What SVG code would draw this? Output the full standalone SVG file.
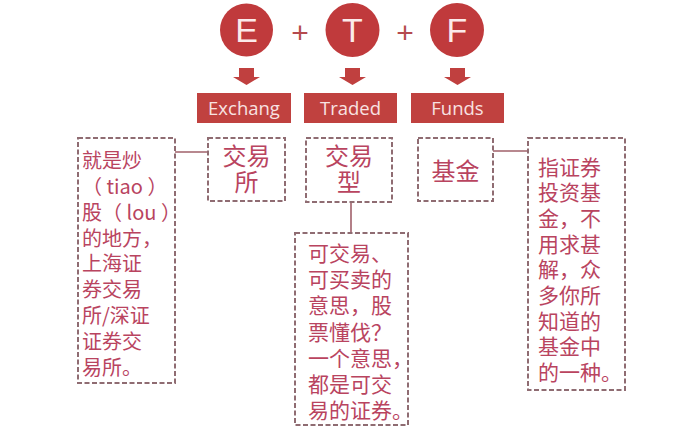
<svg xmlns="http://www.w3.org/2000/svg" width="675" height="434" viewBox="0 0 675 434">
<style>
.circ{fill:#c03a3c}
.ltr{font-family:"Liberation Sans","Open Sans",sans-serif;font-size:34px;fill:#fbeaea;text-anchor:middle}
.plus{font-family:"Liberation Sans",sans-serif;font-size:30px;fill:#b54a4e;text-anchor:middle}
.arr{fill:#c0403f}
.lbox{fill:#c0413f}
.ltxt{font-family:"Open Sans","Liberation Sans",sans-serif;font-size:18.5px;fill:#f8e2e2;text-anchor:middle}
.dash{fill:#ffffff;stroke:#8f6c72;stroke-width:2;stroke-dasharray:5 2.5}
.cn{font-family:"Noto Sans CJK SC","Noto Sans",sans-serif;fill:#b9445f}
.hd{font-size:24px;text-anchor:middle}
.bd{font-size:21px}
.conn{stroke:#a0606a;stroke-width:1.6;fill:none}
</style>
<rect width="675" height="434" fill="#ffffff"/>
<g id="E">
<circle class="circ" cx="246.5" cy="30" r="26.5"/>
<text class="ltr" x="246.5" y="42">E</text>
<path class="arr" d="M239,68 H254 V77 H260 L246.5,85 L233,77 H239 Z"/>
<rect class="lbox" x="197" y="93" width="94" height="30"/>
<text class="ltxt" x="244" y="114.5">Exchang</text>
</g>
<text class="plus" x="300" y="43">+</text>
<g id="T">
<circle class="circ" cx="352.5" cy="30" r="27"/>
<text class="ltr" x="352.5" y="42">T</text>
<path class="arr" d="M345,68 H360 V77 H366 L352.5,85 L339,77 H345 Z"/>
<rect class="lbox" x="304" y="93" width="93" height="30"/>
<text class="ltxt" x="350.5" y="114.5">Traded</text>
</g>
<text class="plus" x="405" y="43">+</text>
<g id="F">
<circle class="circ" cx="457" cy="30" r="27"/>
<text class="ltr" x="457" y="42">F</text>
<path class="arr" d="M450,68 H465 V77 H471 L457.5,85 L444,77 H450 Z"/>
<rect class="lbox" x="411" y="93" width="93" height="30"/>
<text class="ltxt" x="457.5" y="114.5">Funds</text>
</g>
<g id="connectors">
<path class="conn" d="M175,152 H208"/>
<path class="conn" d="M351,202 V233"/>
<path class="conn" d="M493,151 H528"/>
</g>
<g id="jiaoyisuo">
<rect class="dash" x="208" y="138" width="77" height="63"/>
<text class="cn hd" x="246.5" y="165">交易</text>
<text class="cn hd" x="246.5" y="191">所</text>
</g>
<g id="jiaoyixing">
<rect class="dash" x="306" y="138" width="86" height="64"/>
<text class="cn hd" x="349" y="165">交易</text>
<text class="cn hd" x="349" y="191">型</text>
</g>
<g id="jijin">
<rect class="dash" x="418" y="138" width="75" height="63"/>
<text class="cn hd" x="455.5" y="180">基金</text>
</g>
<g id="left-note">
<rect class="dash" x="78" y="138" width="97" height="245"/>
<text class="cn bd" style="font-size:20px">
<tspan x="82" y="168">就是炒</tspan>
<tspan x="82" y="194">（ tiao ）</tspan>
<tspan x="82" y="220">股（ lou ）</tspan>
<tspan x="82" y="246">的地方，</tspan>
<tspan x="82" y="271">上海证</tspan>
<tspan x="82" y="297">券交易</tspan>
<tspan x="82" y="323">所/深证</tspan>
<tspan x="82" y="349">证券交</tspan>
<tspan x="82" y="375">易所。</tspan>
</text>
</g>
<g id="mid-note">
<rect class="dash" x="295" y="233" width="113" height="192"/>
<text class="cn bd">
<tspan x="308" y="261">可交易、</tspan>
<tspan x="308" y="287">可买卖的</tspan>
<tspan x="308" y="313">意思，股</tspan>
<tspan x="308" y="340">票懂伐？</tspan>
<tspan x="308" y="366">一个意思，</tspan>
<tspan x="308" y="392">都是可交</tspan>
<tspan x="308" y="418">易的证券。</tspan>
</text>
</g>
<g id="right-note">
<rect class="dash" x="528" y="138" width="97" height="252"/>
<text class="cn bd">
<tspan x="538" y="175">指证券</tspan>
<tspan x="538" y="200">投资基</tspan>
<tspan x="538" y="226">金，不</tspan>
<tspan x="538" y="252">用求甚</tspan>
<tspan x="538" y="277">解，众</tspan>
<tspan x="538" y="303">多你所</tspan>
<tspan x="538" y="329">知道的</tspan>
<tspan x="538" y="354">基金中</tspan>
<tspan x="538" y="380">的一种。</tspan>
</text>
</g>
</svg>
